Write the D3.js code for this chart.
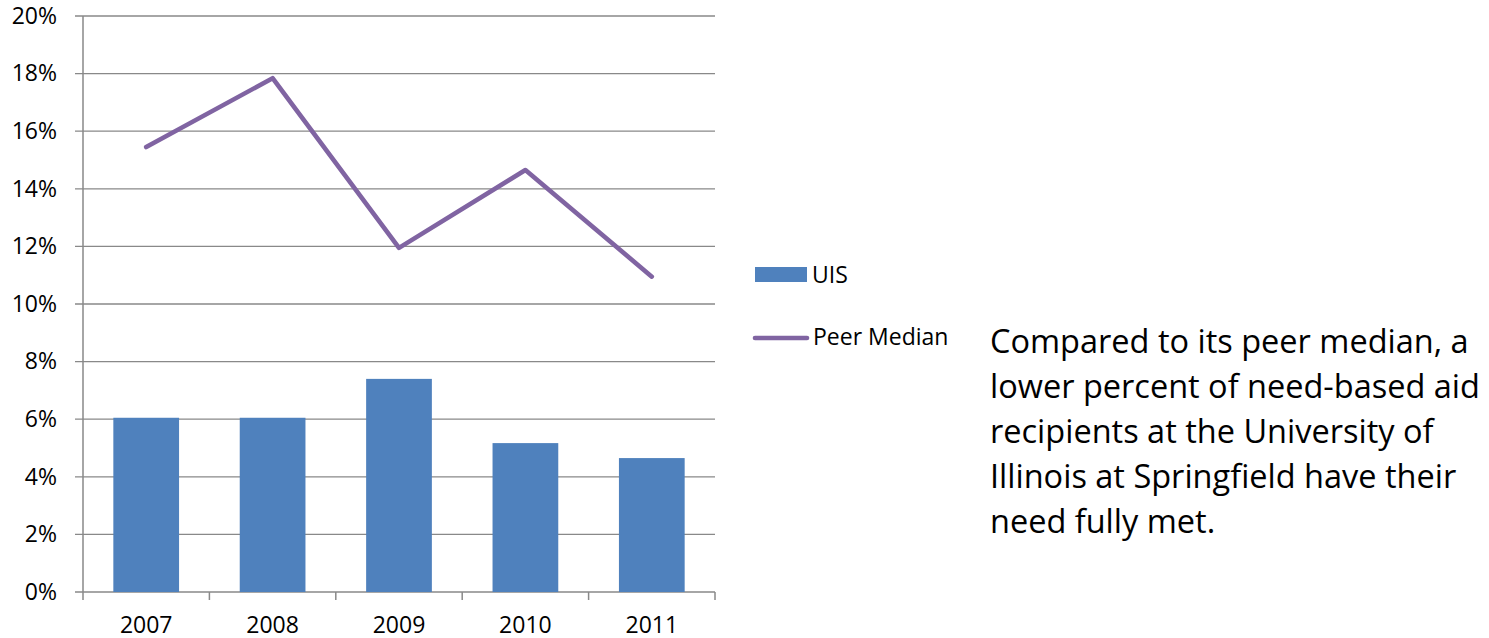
<!DOCTYPE html>
<html>
<head>
<meta charset="utf-8">
<script src="https://cdn.jsdelivr.net/npm/d3@7"></script>
<style>
  body { margin: 0; background: #fff; }
  text { font-family: "Open Sans", "Noto Sans", sans-serif; fill: #000; }
</style>
</head>
<body>
<div id="chart"></div>
<script>
// data
var years = ["2007", "2008", "2009", "2010", "2011"];
var uis = [6.05, 6.05, 7.4, 5.17, 4.65];
var peerMedian = [15.45, 17.84, 11.95, 14.65, 10.95];
var yTicks = [0, 2, 4, 6, 8, 10, 12, 14, 16, 18, 20];
var seriesNames = ["UIS", "Peer Median"];
var note = [
  "Compared to its peer median, a",
  "lower percent of need-based aid",
  "recipients at the University of",
  "Illinois at Springfield have their",
  "need fully met."
];

var W = 1489, H = 638;
var margin = { top: 16, left: 83, right: 774, bottom: 46 };
var width = W - margin.left - margin.right,
  height = H - margin.top - margin.bottom;

var svgRoot = d3.select("#chart")
  .append("svg")
  .attr("width", W)
  .attr("height", H);

var svg = svgRoot.append("g")
  .attr("transform", "translate(" + margin.left + "," + margin.top + ")");

var x = d3.scaleBand()
  .domain(years)
  .range([0, width])
  .paddingInner(0.48)
  .paddingOuter(0.24);

var y = d3.scaleLinear()
  .domain([0, 20])
  .range([height, 0]);

var gridColor = "#898989";
var labelSize = "23px";

// horizontal gridlines with the tick stubs on the left
svg.append("g")
  .selectAll("line")
  .data(yTicks)
  .enter()
  .append("line")
  .attr("x1", -8)
  .attr("x2", width)
  .attr("y1", d => y(d))
  .attr("y2", d => y(d))
  .attr("stroke", gridColor)
  .attr("stroke-width", 1.3);

// Y axis labels
var yAxis = svg.append("g")
  .call(d3.axisLeft(y).tickValues(yTicks).tickSize(0).tickPadding(26)
    .tickFormat(d => d + "%"));
yAxis.select(".domain").remove();
yAxis.selectAll("text")
  .style("font-size", labelSize)
  .attr("font-family", null);

// vertical axis line
svg.append("line")
  .attr("x1", 0).attr("x2", 0)
  .attr("y1", 0).attr("y2", height)
  .attr("stroke", gridColor)
  .attr("stroke-width", 1.5);

// X axis: ticks between categories
var step = x.step();
var xTickPos = d3.range(years.length + 1).map(i => i * step);
svg.append("g")
  .selectAll("line")
  .data(xTickPos)
  .enter()
  .append("line")
  .attr("x1", d => d).attr("x2", d => d)
  .attr("y1", height).attr("y2", height + 8)
  .attr("stroke", gridColor)
  .attr("stroke-width", 1.5);

svg.append("g")
  .selectAll("text")
  .data(years)
  .enter()
  .append("text")
  .attr("x", d => x(d) + x.bandwidth() / 2)
  .attr("y", height + 41)
  .attr("text-anchor", "middle")
  .style("font-size", labelSize)
  .text(d => d);

// bars
svg.append("g")
  .selectAll("rect")
  .data(uis)
  .enter()
  .append("rect")
  .attr("x", (d, i) => x(years[i]))
  .attr("y", d => y(d))
  .attr("width", x.bandwidth())
  .attr("height", d => height - y(d))
  .attr("fill", "#4F81BD");

// peer median line
svg.append("path")
  .datum(peerMedian)
  .attr("fill", "none")
  .attr("stroke", "#8064A2")
  .attr("stroke-width", 4.6)
  .attr("stroke-linecap", "round")
  .attr("stroke-linejoin", "round")
  .attr("d", d3.line()
    .x((d, i) => x(years[i]) + x.bandwidth() / 2)
    .y(d => y(d)));

// legend
var legend = svgRoot.append("g");
legend.append("rect")
  .attr("x", 755).attr("y", 267)
  .attr("width", 52).attr("height", 15)
  .attr("fill", "#4F81BD");
legend.append("text")
  .attr("x", 812).attr("y", 283)
  .style("font-size", labelSize)
  .text(seriesNames[0]);
legend.append("line")
  .attr("x1", 755).attr("x2", 807)
  .attr("y1", 338).attr("y2", 338)
  .attr("stroke", "#8064A2")
  .attr("stroke-width", 4.6)
  .attr("stroke-linecap", "round");
legend.append("text")
  .attr("x", 813).attr("y", 345)
  .style("font-size", labelSize)
  .text(seriesNames[1]);

// side note
svgRoot.append("g")
  .selectAll("text")
  .data(note)
  .enter()
  .append("text")
  .attr("x", 990)
  .attr("y", (d, i) => 353 + i * 45)
  .style("font-size", "32.5px")
  .text(d => d);
</script>
</body>
</html>
